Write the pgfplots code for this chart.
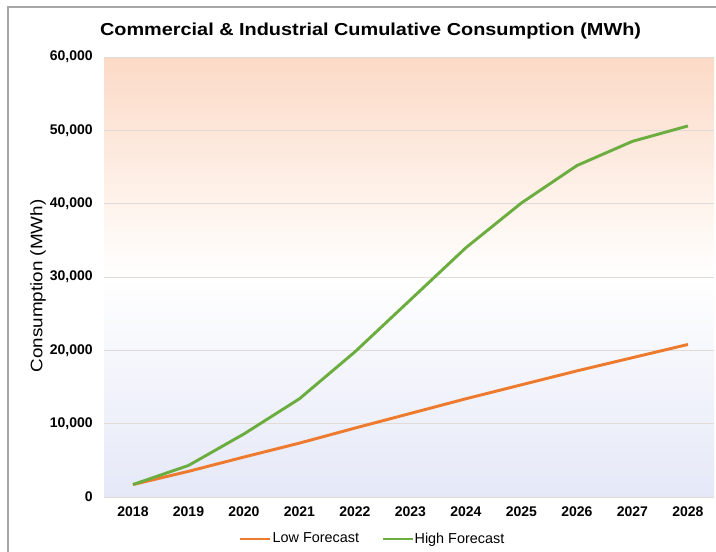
\documentclass[border=0pt]{standalone}
\usepackage{pgfplots}
\pgfplotsset{compat=1.18}
\usepackage{fontspec}
\setmainfont{Liberation Sans}
\definecolor{lowc}{HTML}{EE7A2E}
\definecolor{highc}{HTML}{6CAD3F}
\definecolor{topc}{HTML}{FCDAC6}
\definecolor{botc}{HTML}{E5E8F7}
\definecolor{gridc}{HTML}{E2DAD6}
\begin{document}
\begin{tikzpicture}
\useasboundingbox (0pt,0pt) rectangle (537pt,-414pt);
\fill[white] (0pt,0pt) rectangle (537pt,-414pt);
\draw[color=gray!70, line width=0.8pt] (6pt,-414pt) -- (6pt,-5.25pt) -- (537pt,-5.25pt);
\node[anchor=base, inner sep=0pt] at (277.9pt,-26.8pt)
  {\resizebox{405.75pt}{\height}{\fontsize{13pt}{15pt}\selectfont\bfseries Commercial \& Industrial Cumulative Consumption (MWh)}};
\node[rotate=90, inner sep=0pt] at (28.5pt,-214.5pt)
  {\resizebox{129.75pt}{\height}{\fontsize{12.5pt}{14pt}\selectfont Consumption (MWh)}};
\begin{axis}[
  at={(78pt,-372.75pt)}, anchor=south west,
  scale only axis, width=457.5pt, height=330pt,
  xmin=2017.4775, xmax=2028.47, ymin=0, ymax=60000,
  xtick={2018,...,2028}, ytick={0,10000,...,60000},
  scaled y ticks=false,
  /pgf/number format/.cd, 1000 sep={,}, assume math mode=true,
  /pgfplots/.cd,
  xticklabel={\pgfmathprintnumber[1000 sep={}]{\tick}},
  tick label style={font=\fontsize{10.5pt}{12pt}\selectfont\bfseries},
  yticklabel style={anchor=east, inner sep=0pt, xshift=-8.25pt},
  xticklabel style={anchor=north, inner sep=0pt, yshift=-6.75pt},
  major tick length=0pt,
  axis line style={draw=none},
  ymajorgrids, grid style={gridc, line width=0.6pt},
  axis background/.style={shade, top color=topc, bottom color=botc, middle color=white},
  legend columns=2,
  legend style={draw=none, fill=none, at={(0.4393,-0.0955)}, anchor=center,
    font=\fontsize{10.8pt}{12pt}\selectfont,
    /tikz/every even column/.append style={column sep=16pt},
    nodes={inner xsep=0.5pt, inner ysep=1pt}},
  legend image code/.code={\draw[#1] (0pt,0pt) -- (22.5pt,0pt);},
]
\addplot[lowc, line width=2.2pt] coordinates {
(2018,1700) (2019,3500) (2020,5450) (2021,7350) (2022,9400) (2023,11400)
(2024,13400) (2025,15300) (2026,17200) (2027,19000) (2028,20800)};
\addlegendentry{Low Forecast}
\addplot[highc, line width=2.2pt] coordinates {
(2018,1700) (2019,4300) (2020,8600) (2021,13400) (2022,19800) (2023,26900)
(2024,34000) (2025,40100) (2026,45200) (2027,48500) (2028,50600)};
\addlegendentry{High Forecast}
\end{axis}
\end{tikzpicture}
\end{document}
